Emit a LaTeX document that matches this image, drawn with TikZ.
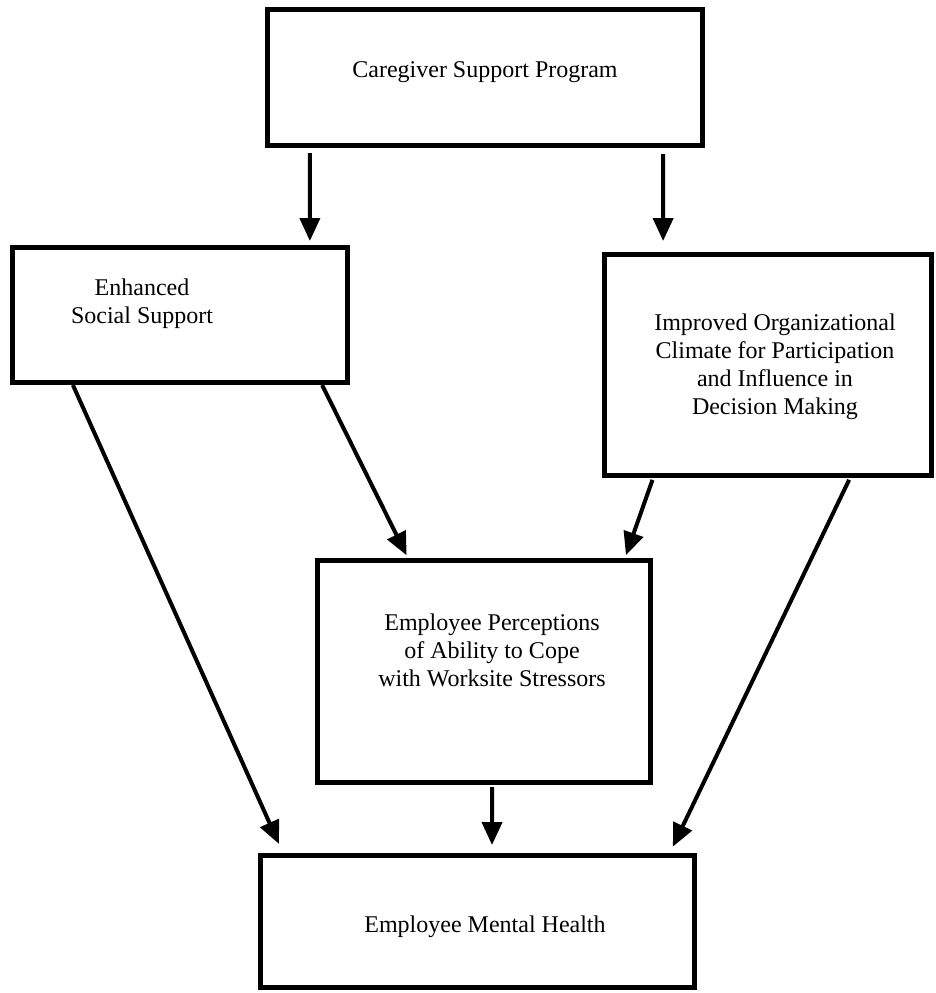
\documentclass[tikz,border=0pt]{standalone}
\usepackage{fontspec}
\setmainfont{Liberation Serif}
\usetikzlibrary{arrows.meta,calc}
\begin{document}
\begin{tikzpicture}[x=0.5pt,y=-0.5pt,
  box/.style={draw=black,line width=2.5pt,rectangle,inner sep=0pt,fill=none},
  lbl/.style={align=center,inner sep=0pt,font=\fontsize{12pt}{14pt}\selectfont},
  conn/.style={draw=black,line width=2pt,-{Triangle[length=11.5pt,width=10pt]}}]
\useasboundingbox[fill=white] (0,0) rectangle (936,993);
% boxes
\node[box,minimum width=217.5pt,minimum height=68pt] (top) at (485,77.5) {};
\node[box,minimum width=167.5pt,minimum height=67.5pt] (ess) at (180,315) {};
\node[box,minimum width=163.5pt,minimum height=110.5pt] (ioc) at (768,365) {};
\node[box,minimum width=166.5pt,minimum height=111pt] (epc) at (484,671.5) {};
\node[box,minimum width=217pt,minimum height=66pt] (emh) at (477.5,921.5) {};
% texts
\node[lbl] (toptext) at (485,72) {Caregiver Support Program};
\node[lbl] (esstext) at (142,304) {Enhanced\\Social Support};
\node[lbl] (ioctext) at (775,367) {Improved Organizational\\Climate for Participation\\and Influence in\\Decision Making};
\node[lbl] (epctext) at (492,650) {Employee Perceptions\\of Ability to Cope\\with Worksite Stressors};
\node[lbl] (emhtext) at (485,927) {Employee Mental Health};
% connectors
\draw[conn,shorten <=2.5pt,shorten >=2pt] ($(top.south west)!0.102!(top.south east)$) -- ($(ess.north west)!0.882!(ess.north east)$);
\draw[conn,shorten <=3pt,shorten >=5.5pt] ($(top.south west)!0.905!(top.south east)$) -- ($(ioc.north west)!0.184!(ioc.north east)$);
\draw[conn,shorten >=5pt] ($(ess.south west)!0.185!(ess.south east)$) -- ($(emh.north west)!0.057!(emh.north east)$);
\draw[conn,shorten >=1.5pt] ($(ess.south west)!0.918!(ess.south east)$) -- ($(epc.north west)!0.275!(epc.north east)$);
\draw[conn,shorten <=1pt,shorten >=1.5pt] ($(ioc.south west)!0.154!(ioc.south east)$) -- ($(epc.north west)!0.917!(epc.north east)$);
\draw[conn,shorten <=1pt,shorten >=3.5pt] ($(ioc.south west)!0.747!(ioc.south east)$) -- ($(emh.north west)!0.938!(emh.north east)$);
\draw[conn,shorten <=1pt,shorten >=4pt] ($(epc.south west)!0.524!(epc.south east)$) -- ($(emh.north west)!0.533!(emh.north east)$);
\end{tikzpicture}
\end{document}
